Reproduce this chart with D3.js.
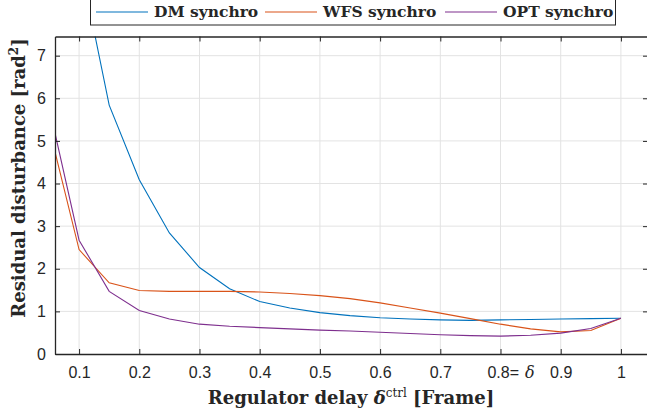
<!DOCTYPE html>
<html>
<head>
<meta charset="utf-8">
<script src="https://cdn.jsdelivr.net/npm/d3@7"></script>
<style>
  body { margin: 0; background: #fff; }
  svg { display: block; }
  .tick text { font-family: "Liberation Sans", Arial, sans-serif; font-size: 16px; fill: #262626; }
  .label { font-family: "DejaVu Serif", "Liberation Serif", serif; font-weight: bold; fill: #262626; }
</style>
</head>
<body>
<div id="chart"></div>
<script>
// delay values (frames)
var delays = [0.06, 0.1, 0.15, 0.2, 0.25, 0.3, 0.35, 0.4, 0.45, 0.5, 0.55,
  0.6, 0.65, 0.7, 0.75, 0.8, 0.85, 0.9, 0.95, 1.0];
var dmSynchro = [14, 9.3, 5.84, 4.09, 2.84, 2.03, 1.53, 1.23, 1.08, 0.97, 0.9,
  0.85, 0.82, 0.8, 0.79, 0.8, 0.81, 0.82, 0.83, 0.84];
var wfsSynchro = [4.74, 2.45, 1.67, 1.49, 1.47, 1.47, 1.47, 1.455, 1.42, 1.37, 1.3,
  1.2, 1.08, 0.96, 0.83, 0.7, 0.59, 0.52, 0.55, 0.84];
var optSynchro = [5.18, 2.67, 1.47, 1.02, 0.82, 0.7, 0.65, 0.62, 0.59, 0.56, 0.54,
  0.51, 0.48, 0.45, 0.43, 0.42, 0.44, 0.49, 0.6, 0.84];
var seriesNames = ["DM synchro", "WFS synchro", "OPT synchro"];
var xTicks = [0.1, 0.2, 0.3, 0.4, 0.5, 0.6, 0.7, 0.8, 0.9, 1];
var yTicks = [0, 1, 2, 3, 4, 5, 6, 7];

var width = 647;
var height = 416;
var colors = ["#0072BD", "#D95319", "#7E2F8E"];

var x = d3.scaleLinear().domain([0.06, 1.045]).range([55, 648]);
var y = d3.scaleLinear().domain([0, 7.45]).range([354, 36.5]);

var svg = d3
  .select("#chart")
  .append("svg")
  .attr("width", width)
  .attr("height", height);

// grid
svg
  .append("g")
  .selectAll("line")
  .data(xTicks)
  .enter()
  .append("line")
  .attr("x1", function(d) { return x(d); })
  .attr("x2", function(d) { return x(d); })
  .attr("y1", y(0))
  .attr("y2", y(7.45))
  .attr("stroke", "#e3e3e3")
  .attr("stroke-width", 1);
svg
  .append("g")
  .selectAll("line")
  .data(yTicks.slice(1))
  .enter()
  .append("line")
  .attr("x1", x(0.06))
  .attr("x2", x(1.045))
  .attr("y1", function(d) { return y(d); })
  .attr("y2", function(d) { return y(d); })
  .attr("stroke", "#e3e3e3")
  .attr("stroke-width", 1);

// clip
svg
  .append("clipPath")
  .attr("id", "plotclip")
  .append("rect")
  .attr("x", x(0.06))
  .attr("y", y(7.45))
  .attr("width", x(1.045) - x(0.06))
  .attr("height", y(0) - y(7.45));

var allSeries = [dmSynchro, wfsSynchro, optSynchro];
var line = d3
  .line()
  .x(function(d, i) { return x(delays[i]); })
  .y(function(d) { return y(d); });

svg
  .append("g")
  .attr("clip-path", "url(#plotclip)")
  .selectAll("path")
  .data(allSeries)
  .enter()
  .append("path")
  .attr("d", line)
  .attr("fill", "none")
  .attr("stroke", function(d, i) { return colors[i]; })
  .attr("stroke-width", 1.1);

// axes
var tickFmt = function(d) { return d === 1 ? "1" : d3.format(".1f")(d); };
var xAxis = svg
  .append("g")
  .attr("transform", "translate(0," + y(0) + ")")
  .call(d3.axisBottom(x).tickValues(xTicks).tickSizeInner(-5).tickSizeOuter(0).tickPadding(13).tickFormat(tickFmt));
xAxis.selectAll(".tick text").filter(function(d) { return d === 0.8; })
  .text(null)
  .call(function(t) {
    t.append("tspan").text("0.8=");
    t.append("tspan")
      .attr("font-family", "'DejaVu Serif', serif")
      .attr("font-style", "italic")
      .attr("dx", 6)
      .text("δ");
  })
  .attr("dx", "10px");

svg
  .append("g")
  .attr("transform", "translate(0," + y(7.45) + ")")
  .call(d3.axisTop(x).tickValues(xTicks).tickSizeInner(-5).tickSizeOuter(0).tickFormat(""));

svg
  .append("g")
  .attr("transform", "translate(" + x(0.06) + ",0)")
  .call(d3.axisLeft(y).tickValues(yTicks).tickSizeInner(-5).tickSizeOuter(0).tickPadding(9));

svg
  .append("g")
  .attr("transform", "translate(" + x(1.045) + ",0)")
  .call(d3.axisRight(y).tickValues(yTicks).tickSizeInner(-5).tickSizeOuter(0).tickFormat(""));

svg.selectAll(".domain").attr("stroke", "#262626").attr("stroke-width", 1.3);
svg.selectAll(".tick line").attr("stroke", "#262626");

// axis labels
var xl = svg
  .append("text")
  .attr("class", "label")
  .attr("x", 351)
  .attr("y", 404)
  .attr("text-anchor", "middle")
  .attr("font-size", "18px");
xl.append("tspan").text("Regulator delay ");
xl.append("tspan").attr("font-style", "italic").text("δ");
xl.append("tspan").attr("font-size", "12px").attr("font-weight", "normal").attr("dy", -7).text("ctrl");
xl.append("tspan").attr("dy", 7).text(" [Frame]");

var yl = svg
  .append("text")
  .attr("class", "label")
  .attr("transform", "translate(25,178) rotate(-90)")
  .attr("text-anchor", "middle")
  .attr("font-size", "18px");
yl.append("tspan").text("Residual disturbance [rad");
yl.append("tspan").attr("font-size", "12px").attr("dy", -7).text("2");
yl.append("tspan").attr("dy", 7).text("]");

// legend
var legend = svg.append("g");
legend
  .append("rect")
  .attr("x", 90.5)
  .attr("y", -1)
  .attr("width", 525)
  .attr("height", 26)
  .attr("fill", "#fff")
  .attr("stroke", "#262626")
  .attr("stroke-width", 1);
var legendX = [96, 265, 445];
var legendItem = legend
  .selectAll("g")
  .data(seriesNames)
  .enter()
  .append("g")
  .attr("transform", function(d, i) { return "translate(" + legendX[i] + ",0)"; });
legendItem
  .append("line")
  .attr("x1", 0)
  .attr("x2", 52)
  .attr("y1", 12)
  .attr("y2", 12)
  .attr("stroke", function(d, i) { return colors[i]; })
  .attr("stroke-width", 1.1);
legendItem
  .append("text")
  .attr("class", "label")
  .attr("x", 58)
  .attr("y", 17)
  .attr("font-size", "15.5px")
  .text(function(d) { return d; });
</script>
</body>
</html>
